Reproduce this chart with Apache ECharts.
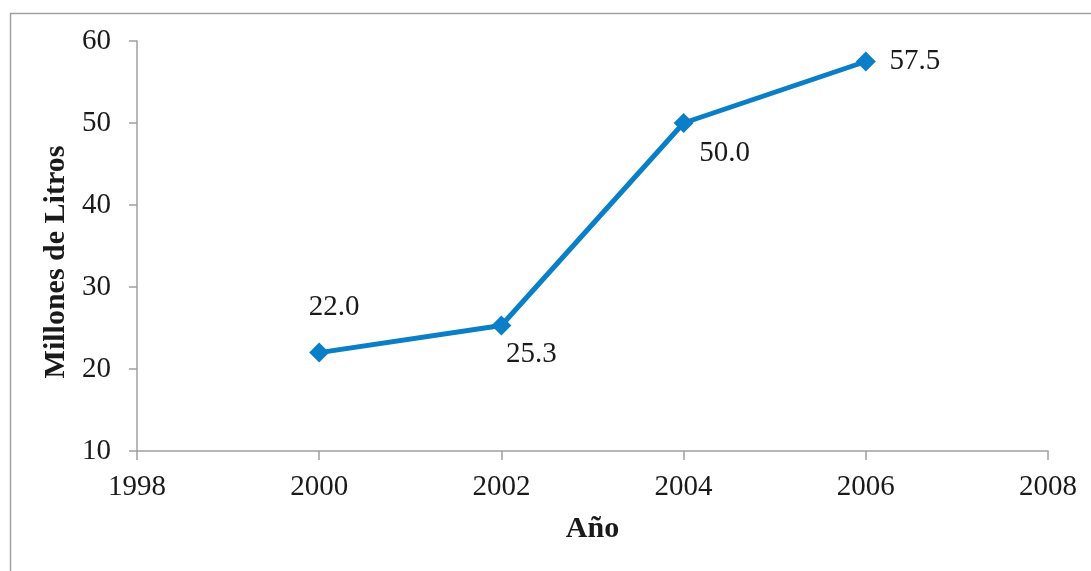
<!DOCTYPE html>
<html><head><meta charset="utf-8">
<script src="https://cdn.jsdelivr.net/npm/echarts@6/dist/echarts.min.js"></script>
<style>html,body{margin:0;padding:0;background:#fff}#c{width:1091px;height:571px}</style>
</head><body><div id="c"></div>
<script>
const years = [2000, 2002, 2004, 2006];
const values = [22.0, 25.3, 50.0, 57.5];
const xTicks = [1998, 2000, 2002, 2004, 2006, 2008];
const yTicks = [10, 20, 30, 40, 50, 60];
const labelOffsets = [[15, -45], [30, 29], [41, 30], [49, 0]];

const font = 'Liberation Serif';
const chart = echarts.init(document.getElementById('c'));
chart.setOption({
  animation: false,
  graphic: [{
    type: 'rect', left: 8, top: 11,
    shape: { width: 1200, height: 700 },
    style: { fill: 'none', stroke: '#a0a0a0', lineWidth: 1.5 }, silent: true
  }],
  grid: { left: 137, right: 43, top: 41, bottom: 120 },
  xAxis: {
    type: 'value', min: xTicks[0], max: xTicks[xTicks.length - 1], interval: 2,
    name: 'Año', nameLocation: 'middle', nameGap: 63,
    nameTextStyle: { fontFamily: font, fontSize: 30, fontWeight: 'bold', color: '#1a1a1a' },
    axisLine: { show: true, lineStyle: { color: '#a0a0a0', width: 1.5 } },
    axisTick: { show: true, length: 9, lineStyle: { color: '#a0a0a0', width: 1.5 } },
    axisLabel: { fontFamily: font, fontSize: 29, color: '#1a1a1a', margin: 22, formatter: v => String(v) },
    splitLine: { show: false }
  },
  yAxis: {
    type: 'value', min: yTicks[0], max: yTicks[yTicks.length - 1], interval: 10,
    name: 'Millones de Litros', nameLocation: 'middle', nameGap: 64,
    nameTextStyle: { fontFamily: font, fontSize: 30, fontWeight: 'bold', color: '#1a1a1a', padding: [0, 32, 0, 0] },
    axisLine: { show: true, lineStyle: { color: '#a0a0a0', width: 1.5 } },
    axisTick: { show: true, length: 8, lineStyle: { color: '#a0a0a0', width: 1.5 } },
    axisLabel: { fontFamily: font, fontSize: 29, color: '#1a1a1a', margin: 26, formatter: v => String(v) },
    splitLine: { show: false }
  },
  series: [{
    type: 'line',
    data: years.map((y, i) => ({
      value: [y, values[i]],
      label: { offset: labelOffsets[i] }
    })),
    symbol: 'diamond', symbolSize: 20,
    lineStyle: { color: '#0a7ec6', width: 5 },
    itemStyle: { color: '#0a7ec6' },
    label: {
      show: true, position: 'inside', align: 'center', verticalAlign: 'middle',
      fontFamily: font, fontSize: 29, color: '#1a1a1a',
      formatter: p => p.value[1].toFixed(1)
    }
  }]
});
</script></body></html>
